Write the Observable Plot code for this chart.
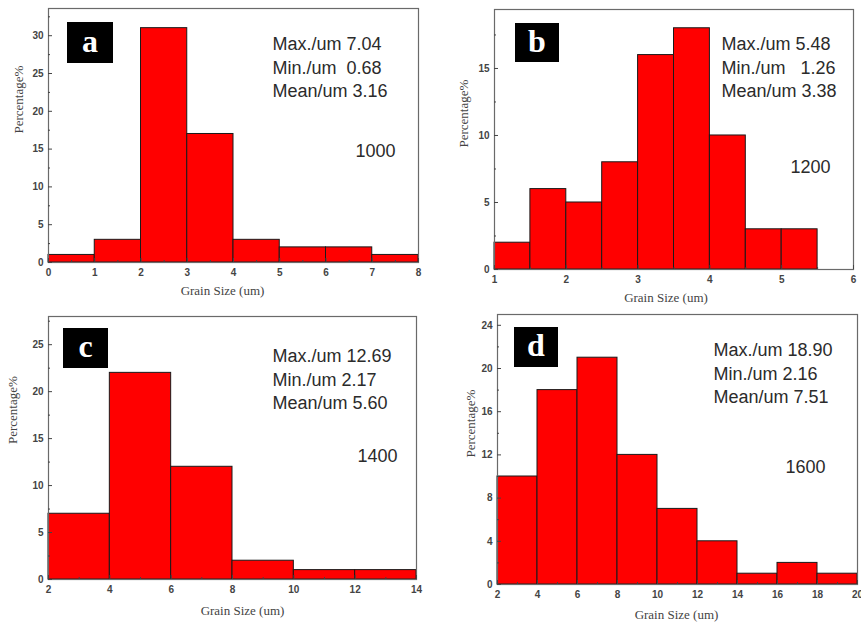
<!DOCTYPE html>
<html><head><meta charset="utf-8">
<script src="https://cdn.jsdelivr.net/npm/d3@7"></script>
<script src="https://cdn.jsdelivr.net/npm/@observablehq/plot@0.6"></script>
<style>
body{margin:0;background:#fff;}
#wrap{position:relative;width:861px;height:628px;overflow:hidden;background:#fff;}
.panel{position:absolute;}
.tag{position:absolute;background:#000;color:#fff;font-family:"Liberation Serif","Times New Roman",serif;font-weight:bold;font-size:32px;display:flex;align-items:center;justify-content:center;line-height:1;padding-bottom:4px;box-sizing:border-box;}
svg text{white-space:pre;}
</style></head><body><div id="wrap"></div>
<script>
// ---- data ----
const aLo = [0, 1, 2, 3, 4, 5, 6, 7];
const aHi = [1, 2, 3, 4, 5, 6, 7, 8];
const aPct = [1, 3, 31, 17, 3, 2, 2, 1];
const aXTicks = [0, 1, 2, 3, 4, 5, 6, 7, 8];
const aXMinor = [0.5, 1.5, 2.5, 3.5, 4.5, 5.5, 6.5, 7.5];
const aYTicks = [0, 5, 10, 15, 20, 25, 30];
const aYMinor = [2.5, 7.5, 12.5, 17.5, 22.5, 27.5, 32.5];
const aStats = ["Max./um 7.04", "Min./um  0.68", "Mean/um 3.16"];
const aTemp = "1000";

const bLo = [1, 1.5, 2, 2.5, 3, 3.5, 4, 4.5, 5];
const bHi = [1.5, 2, 2.5, 3, 3.5, 4, 4.5, 5, 5.5];
const bPct = [2, 6, 5, 8, 16, 18, 10, 3, 3];
const bXTicks = [1, 2, 3, 4, 5, 6];
const bXMinor = [1.5, 2.5, 3.5, 4.5, 5.5];
const bYTicks = [0, 5, 10, 15];
const bYMinor = [2.5, 7.5, 12.5, 17.5];
const bStats = ["Max./um 5.48", "Min./um   1.26", "Mean/um 3.38"];
const bTemp = "1200";

const cLo = [2, 4, 6, 8, 10, 12];
const cHi = [4, 6, 8, 10, 12, 14];
const cPct = [7, 22, 12, 2, 1, 1];
const cXTicks = [2, 4, 6, 8, 10, 12, 14];
const cXMinor = [3, 5, 7, 9, 11, 13];
const cYTicks = [0, 5, 10, 15, 20, 25];
const cYMinor = [2.5, 7.5, 12.5, 17.5, 22.5, 27.5];
const cStats = ["Max./um 12.69", "Min./um 2.17", "Mean/um 5.60"];
const cTemp = "1400";

const dLo = [2, 4, 6, 8, 10, 12, 14, 16, 18];
const dHi = [4, 6, 8, 10, 12, 14, 16, 18, 20];
const dPct = [10, 18, 21, 12, 7, 4, 1, 2, 1];
const dXTicks = [2, 4, 6, 8, 10, 12, 14, 16, 18, 20];
const dXMinor = [3, 5, 7, 9, 11, 13, 15, 17, 19];
const dYTicks = [0, 4, 8, 12, 16, 20, 24];
const dYMinor = [2, 6, 10, 14, 18, 22];
const dStats = ["Max./um 18.90", "Min./um 2.16", "Mean/um 7.51"];
const dTemp = "1600";

const xTitle = "Grain Size (um)";
const yTitle = "Percentage%";
const tags = ["a", "b", "c", "d"];

// ---- drawing ----
const wrap = document.getElementById("wrap");
const SANS = "'Liberation Sans', Arial, sans-serif";
const SERIF = "'Liberation Serif', 'Times New Roman', serif";

function panel(c) {
  const rows = c.lo.map((l, i) => ({lo: l, hi: c.hi[i], pct: c.pct[i]}));
  const svg = Plot.plot({
    width: c.w, height: c.h,
    marginLeft: c.ml, marginRight: c.mr, marginTop: c.mt, marginBottom: c.mb,
    style: {background: "transparent", fontSize: "10px", fontFamily: SANS, color: "#333", overflow: "visible"},
    x: {domain: c.xDomain, label: null},
    y: {domain: c.yDomain, label: null},
    marks: [
      Plot.rectY(rows, {x1: "lo", x2: "hi", y: "pct", fill: "#ff0000", stroke: "#1a1a1a", strokeWidth: 1}),
      Plot.frame({stroke: "#6a6a6a", strokeWidth: 1.2}),
      Plot.axisX(c.xTicks, {tickSize: -4, tickPadding: 10, color: "#444", fontWeight: "bold", label: null}),
      Plot.axisX(c.xMinor, {tickSize: -2, tickFormat: () => "", color: "#444", label: null}),
      Plot.axisY(c.yTicks, {tickSize: -4, tickPadding: 9, color: "#444", fontWeight: "bold", label: null}),
      Plot.axisY(c.yMinor.filter(v => v <= c.yDomain[1]), {tickSize: -2, tickFormat: () => "", color: "#444", label: null}),
      Plot.text([c.stats.join("\n")], {text: d => d, frameAnchor: "top-left", textAnchor: "start", lineAnchor: "top", lineHeight: 1.3, dx: c.sdx, dy: c.sdy, fontSize: 18, fontFamily: SANS, fill: "#2b2b2b"}),
      Plot.text([c.temp], {text: d => d, frameAnchor: "top-left", textAnchor: "start", lineAnchor: "top", dx: c.tdx, dy: c.tdy, fontSize: 18, fontFamily: SANS, fill: "#2b2b2b"}),
      Plot.text([xTitle], {text: d => d, frameAnchor: "bottom", lineAnchor: "middle", dx: c.xtdx, dy: c.xtdy, fontSize: 13, fontFamily: SERIF, fill: "#444"}),
      Plot.text([yTitle], {text: d => d, frameAnchor: "left", rotate: -90, lineAnchor: "middle", dx: c.ytdx, dy: c.ytdy, fontSize: 13, fontFamily: SERIF, fill: "#444"})
    ]
  });
  const holder = document.createElement("div");
  holder.className = "panel";
  holder.style.left = c.left + "px";
  holder.style.top = c.top + "px";
  holder.appendChild(svg);
  wrap.appendChild(holder);
  const tag = document.createElement("div");
  tag.className = "tag";
  tag.textContent = c.tag;
  tag.style.left = c.tag_x + "px"; tag.style.top = c.tag_y + "px";
  tag.style.width = c.tag_w + "px"; tag.style.height = c.tag_h + "px";
  wrap.appendChild(tag);
}

panel({lo: aLo, hi: aHi, pct: aPct, xDomain: [0, 8], yDomain: [0, 33.6],
  xTicks: aXTicks, xMinor: aXMinor, yTicks: aYTicks, yMinor: aYMinor, stats: aStats, temp: aTemp,
  left: 0, top: 0, w: 430, h: 305, ml: 48, mr: 12, mt: 8, mb: 43,
  sdx: 224, sdy: 25, tdx: 307, tdy: 136, xtdx: -11, xtdy: 28, ytdx: -30, ytdy: -2,
  tag: tags[0], tag_x: 67, tag_y: 22, tag_w: 46, tag_h: 41});

panel({lo: bLo, hi: bHi, pct: bPct, xDomain: [1, 6], yDomain: [0, 19.4],
  xTicks: bXTicks, xMinor: bXMinor, yTicks: bYTicks, yMinor: bYMinor, stats: bStats, temp: bTemp,
  left: 430, top: 0, w: 431, h: 305, ml: 64, mr: 8, mt: 9, mb: 36,
  sdx: 227, sdy: 24, tdx: 296, tdy: 151, xtdx: -8, xtdy: 28, ytdx: -31, ytdy: 8,
  tag: tags[1], tag_x: 515, tag_y: 23, tag_w: 44, tag_h: 39});

panel({lo: cLo, hi: cHi, pct: cPct, xDomain: [2, 14], yDomain: [0, 28],
  xTicks: cXTicks, xMinor: cXMinor, yTicks: cYTicks, yMinor: cYMinor, stats: cStats, temp: cTemp,
  left: 0, top: 310, w: 430, h: 318, ml: 48, mr: 14, mt: 6, mb: 49,
  sdx: 224, sdy: 29, tdx: 309, tdy: 133, xtdx: 10, xtdy: 31, ytdx: -36, ytdy: -4,
  tag: tags[2], tag_x: 63, tag_y: 328, tag_w: 45, tag_h: 40});

panel({lo: dLo, hi: dHi, pct: dPct, xDomain: [2, 20], yDomain: [0, 25],
  xTicks: dXTicks, xMinor: dXMinor, yTicks: dYTicks, yMinor: dYMinor, stats: dStats, temp: dTemp,
  left: 430, top: 310, w: 431, h: 318, ml: 67, mr: 4, mt: 4, mb: 44,
  sdx: 216, sdy: 25, tdx: 288, tdy: 146, xtdx: -1, xtdy: 30, ytdx: -27, ytdy: 8,
  tag: tags[3], tag_x: 514, tag_y: 327, tag_w: 44, tag_h: 40});
</script>
</body></html>
